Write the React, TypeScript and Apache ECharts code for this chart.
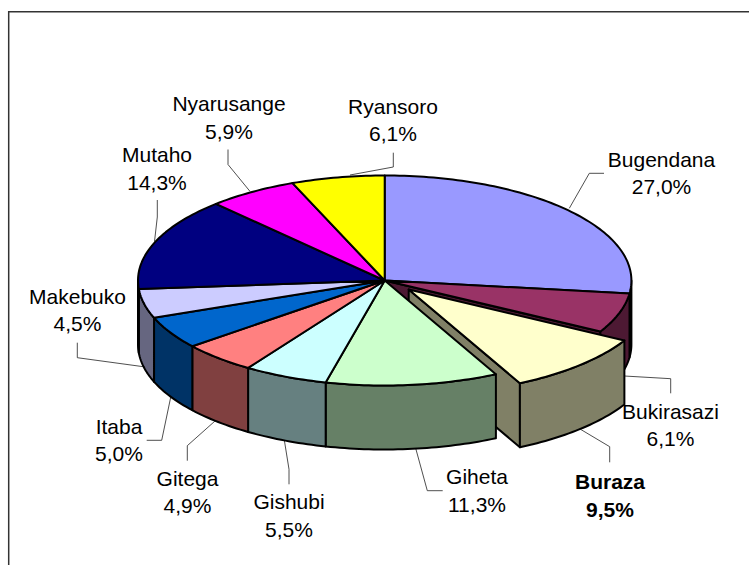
import React, { useEffect, useRef } from "react";
import * as echarts from "echarts";

const categories = ["Bugendana", "Bukirasazi", "Buraza", "Giheta", "Gishubi", "Gitega", "Itaba", "Makebuko", "Mutaho", "Nyarusange", "Ryansoro"];
const shares = [27.0, 6.1, 9.5, 11.3, 5.5, 4.9, 5.0, 4.5, 14.3, 5.9, 6.1];
const topColors = ["#9999FF", "#993366", "#FFFFCC", "#CCFFCC", "#CCFFFF", "#FF8080", "#0066CC", "#CCCCFF", "#000080", "#FF00FF", "#FFFF00"];
const wallColors = ["#4D4D80", "#4D1933", "#808066", "#668066", "#668080", "#804040", "#003366", "#666680", "#000040", "#800080", "#808000"];
const explodedName = "Buraza";

// label layout, same order as categories: text block centre, then leader polyline
const labelCentres = [[661.5, 173], [670.5, 425], [610, 495.5], [477, 490.5], [289, 515.5], [187.5, 492], [119, 440], [77.5, 310], [157, 168.5], [229, 117.5], [393, 120]];
const leaders = [
  [[604, 173.3], [589.3, 173.3], [569.3, 208.3]],
  [[670.7, 393.3], [670.7, 378.7], [624.3, 376]],
  [[609.7, 462.3], [609.7, 446.7], [580, 429]],
  [[442.7, 490.7], [427.3, 490.7], [415.7, 448.3]],
  [[289, 484.3], [289, 469.3], [284.3, 440]],
  [[187.3, 460.7], [187.3, 445.7], [215, 421]],
  [[146.7, 440.3], [161.7, 440.3], [170.7, 397.3]],
  [[77.3, 342.7], [77.3, 357.7], [143.3, 366.7]],
  [[157.3, 200], [157.3, 217], [154.5, 241.5]],
  [[228, 149.5], [228, 164.5], [249.7, 191]],
  [[393.3, 152.7], [393.3, 167], [350, 175]],
];

const CX = 384.7, CY = 280.5, RX = 246.7, RY = 105, DEPTH = 64;
const EXPLODE_X = 24, EXPLODE_Y = 9;
const TOTAL = shares.reduce((a, b) => a + b, 0);
const OUTLINE = { stroke: "#000", lineWidth: 2, lineJoin: "round" as const };

function rim(theta: number, ox: number, oy: number): number[] {
  return [CX + ox + RX * Math.sin(theta), CY + oy - RY * Math.cos(theta)];
}

function arc(a0: number, a1: number, ox: number, oy: number): number[][] {
  const steps = Math.max(2, Math.ceil(Math.abs(a1 - a0) / 0.02));
  const pts: number[][] = [];
  for (let i = 0; i <= steps; i++) pts.push(rim(a0 + ((a1 - a0) * i) / steps, ox, oy));
  return pts;
}

function renderSlice(params: any, api: any) {
  const i = params.dataIndex;
  const before = shares.slice(0, i).reduce((a, b) => a + b, 0);
  const a0 = (before / TOTAL) * Math.PI * 2;
  const a1 = ((before + api.value(0)) / TOTAL) * Math.PI * 2;
  const exploded = categories[i] === explodedName;
  const ox = exploded ? EXPLODE_X : 0;
  const oy = exploded ? EXPLODE_Y : 0;
  const children: any[] = [];

  const nextExploded = categories[i + 1] === explodedName;
  if (exploded || nextExploded) {
    const e = rim(a1, ox, oy);
    const c = [CX + ox, CY + oy];
    children.push({
      type: "polygon",
      z2: i,
      shape: { points: [c, e, [e[0], e[1] + DEPTH], [c[0], c[1] + DEPTH]] },
      style: { fill: wallColors[i], ...OUTLINE },
    });
  }

  const w0 = Math.max(a0, Math.PI / 2);
  const w1 = Math.min(a1, (Math.PI * 3) / 2);
  if (w1 > w0) {
    const top = arc(w0, w1, ox, oy);
    const bottom = top.map((p) => [p[0], p[1] + DEPTH]).reverse();
    children.push({
      type: "polygon",
      z2: i + 0.5,
      shape: { points: [...top, ...bottom] },
      style: { fill: wallColors[i], ...OUTLINE },
    });
  }

  children.push({
    type: "polygon",
    z2: 100,
    shape: { points: [[CX + ox, CY + oy], ...arc(a0, a1, ox, oy)] },
    style: { fill: topColors[i], ...OUTLINE },
  });
  return { type: "group", children };
}

export default function App() {
  const ref = useRef<HTMLDivElement>(null);
  useEffect(() => {
    document.body.style.margin = "0";
    const chart = echarts.init(ref.current!, undefined, { renderer: "svg" });
    chart.setOption({
      animation: false,
      backgroundColor: "#fff",
      graphic: [
        {
          type: "polyline",
          silent: true,
          shape: { points: [[8.7, 565], [8.7, 11.7], [749, 11.7]] },
          style: { fill: "none", stroke: "#333", lineWidth: 1.5 },
        },
        ...leaders.map((points) => ({
          type: "polyline",
          silent: true,
          shape: { points },
          style: { fill: "none", stroke: "#222", lineWidth: 0.8 },
        })),
        ...categories.map((name, i) => ({
          type: "text",
          silent: true,
          x: labelCentres[i][0],
          y: labelCentres[i][1],
          style: {
            text: `${name}\n${shares[i].toFixed(1).replace(".", ",")}%`,
            align: "center",
            verticalAlign: "middle",
            lineHeight: 27.5,
            fill: "#000",
            font: `${name === explodedName ? "bold " : ""}21px "Liberation Sans", Arial, sans-serif`,
          },
        })),
      ],
      series: [
        {
          type: "custom",
          coordinateSystem: "none",
          renderItem: renderSlice,
          data: shares.map((v) => [v]),
          silent: true,
          clip: false,
        },
      ],
    });
    return () => chart.dispose();
  }, []);
  return <div ref={ref} style={{ width: 749, height: 565 }} />;
}
